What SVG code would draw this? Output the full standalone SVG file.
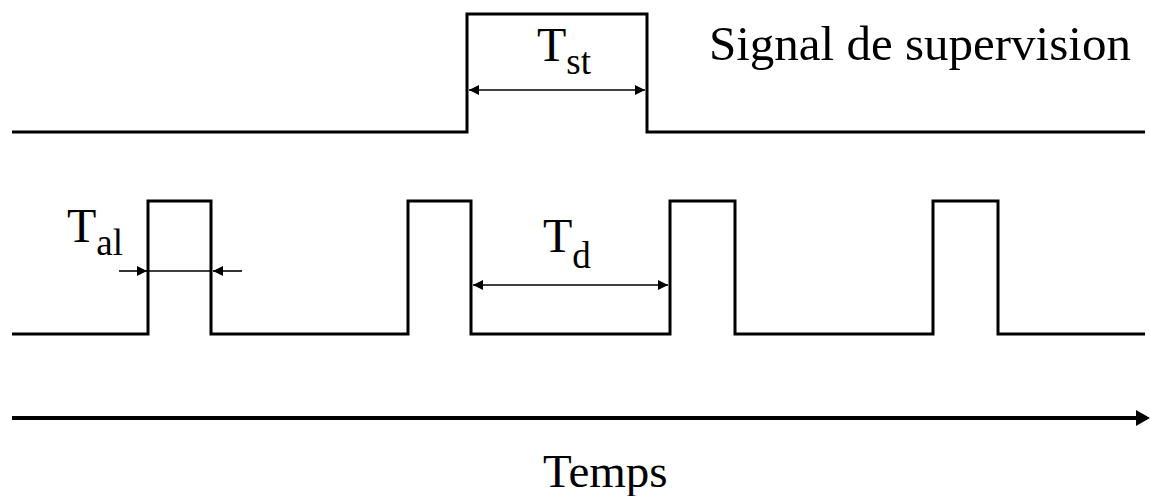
<svg xmlns="http://www.w3.org/2000/svg" width="1150" height="496" viewBox="0 0 1150 496">
<style>
.sig{fill:none;stroke:#000;stroke-width:3;stroke-linejoin:miter}
.dim{fill:none;stroke:#000;stroke-width:1.6}
text{fill:#000}
</style>
<defs>
<marker id="ah" viewBox="0 0 10 10" refX="10" refY="5" markerWidth="14" markerHeight="10" markerUnits="userSpaceOnUse" orient="auto-start-reverse">
<path d="M0,0 L10,5 L0,10 Z" fill="#000"/>
</marker>
</defs>
<rect width="1150" height="496" fill="#fff"/>
<g id="supervision-signal">
<path class="sig" d="M12,132 H467 V14 H647 V132 H1145"/>
<text font-family="'Liberation Serif', 'Times New Roman', 'DejaVu Serif', serif" x="709" y="60" font-size="49">Signal de supervision</text>
</g>
<g id="alarm-signal">
<path class="sig" d="M12,334 H148 V201 H211 V334 H408 V201 H471 V334 H670 V201 H735 V334 H933 V201 H998 V334 H1145"/>
</g>
<g id="time-axis">
<text font-family="'Liberation Serif', 'Times New Roman', 'DejaVu Serif', serif" x="543" y="487" font-size="47">Temps</text>
</g>
<g id="connectors">
<line class="dim" x1="469" y1="90" x2="645" y2="90" marker-start="url(#ah)" marker-end="url(#ah)"/>
<line class="dim" x1="119" y1="271" x2="147" y2="271" marker-end="url(#ah)"/>
<line class="dim" x1="147" y1="271" x2="212" y2="271"/>
<line class="dim" x1="242" y1="271" x2="213" y2="271" marker-end="url(#ah)"/>
<line class="dim" x1="473" y1="285" x2="668" y2="285" marker-start="url(#ah)" marker-end="url(#ah)"/>
<line x1="12" y1="418" x2="1140" y2="418" stroke="#000" stroke-width="4"/>
<path d="M1136,410 L1150,418 L1136,426 Z" fill="#000"/>
</g>
<g id="labels">
<text font-family="'Liberation Serif', 'Times New Roman', 'DejaVu Serif', serif" x="537" y="61" font-size="48">T<tspan font-size="37" dy="13">st</tspan></text>
<text font-family="'Liberation Serif', 'Times New Roman', 'DejaVu Serif', serif" x="67" y="242" font-size="48">T<tspan font-size="37" dy="13">al</tspan></text>
<text font-family="'Liberation Serif', 'Times New Roman', 'DejaVu Serif', serif" x="543" y="252" font-size="48">T<tspan font-size="37" dy="16">d</tspan></text>
</g>
</svg>
